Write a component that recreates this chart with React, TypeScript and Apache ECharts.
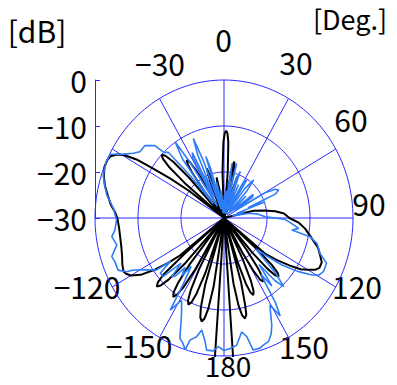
import React, { useEffect, useRef } from "react";
import * as echarts from "echarts";

// Black trace (simulated) : angle [deg], level [dB]
const blackAngles = [
  -180, -178, -176, -175.3,
  -172.3, -170.8, -169.5, -168.3, -167, -165.7, -164.5, -163.2, -161.7,
  -160.1, -158.8, -157.6, -156.3, -155, -153.8, -152.5, -151,
  -149.2, -147.9, -146.7, -145.4, -144.1, -142.9, -141.6, -139.8,
  -137.4, -136.1, -134.9, -133.6, -132.3, -131.1, -130.3, -129.6,
  -128.5, -127, -125, -122.5, -120, -118, -116.5, -113, -110, -105, -100, -95, -90, -87, -84, -80, -76, -72, -68, -65, -63, -61, -59.5, -58, -57, -55.5, -54, -52.5,
  -51.5, -50.2, -49, -47.8, -46.5, -45.2, -44, -42.8, -41.3,
  -39.5, -38.2, -37, -35.8, -34.5, -33.2, -32, -30.8, -29.5,
  -24.5, -23.2, -22, -20.4, -18.8, -17.6, -16.3,
  -14, -12.5, -11, -9.5, -8,
  -3.5, -2, -0.5, 0.5, 1.5, 2.5, 3.5, 5, 6.5,
  7.5, 9, 10, 11, 12, 13, 14.5,
  16.5, 17.8, 19, 20.2, 21.5,
  75.5, 77, 80, 83, 86, 90, 93.5, 97, 103, 106.5, 110, 113, 116, 118, 120, 122, 124, 126.5, 129, 130.8,
  131.6, 132.5, 133.7, 135, 136.3, 137.5, 138.8, 140.3,
  142.8, 144.1, 145.3, 146.6, 147.9, 149.1, 150.4, 152,
  154.1, 155.4, 156.6, 157.9, 159.2, 160.4, 161.7, 162.9,
  164.1, 165.4, 166.1, 167.4, 168.7, 169.9, 171.2, 172.5,
  175.3, 176, 178, 180,
];
const blackDb = [
  3, 3, 2, -30,
  -30, -14.9, -9.9, -7.7, -6.9, -7.7, -9.9, -14.9, -30,
  -17.4, -12.4, -10.2, -9.4, -10.2, -12.4, -17.4, -30,
  -17.2, -12.2, -10, -9.2, -10, -12.2, -17.2, -30,
  -16.4, -11.4, -9.2, -8.4, -9.2, -11.4, -18, -30,
  -17, -14, -10.5, -7, -5, -4.2, -3.9, -4.3, -4.8, -5.3, -5.5, -5.5, -5.2, -4.6, -3.6, -2.6, -1.5, -0.6, -0.05, -0.1, -0.4, -1.5, -3, -6, -10, -15, -20, -30,
  -30, -18, -13, -10.8, -10, -10.8, -13, -18, -30,
  -30, -22.7, -17.7, -15.5, -14.7, -15.5, -17.7, -22.7, -30,
  -30, -26.5, -21.5, -18.5, -21.5, -26.5, -30,
  -30, -24, -21, -24, -30,
  -30, -20, -13.5, -11.6, -11, -11.6, -13.5, -20, -30,
  -30, -22, -18.3, -17.5, -18.3, -22, -30,
  -30, -23.5, -20.5, -23.5, -30,
  -30, -23, -20.5, -18, -16, -14.8, -12.5, -11, -8.8, -7.2, -6.2, -5.3, -5.3, -6, -7.5, -9, -11.5, -14.5, -17.5, -30,
  -20, -15, -12.8, -12, -12.8, -15, -20, -30,
  -21.4, -16.4, -14.2, -13.4, -14.2, -16.4, -21.4, -30,
  -19.9, -14.9, -12.7, -11.9, -12.7, -14.9, -19.9, -30,
  -15.6, -10.6, -8.4, -7.6, -8.4, -10.6, -15.6, -30,
  -30, 2, 3, 3,
];

// Blue trace (measured) : angle [deg], level [dB]
const blueAngles = [
  -180, -177.3, -175, -172, -170.7, -168, -166.1, -163.4, -162.5, -160.5, -158.6, -157.5, -156, -154, -152, -151,
  -149.5, -148, -146.5, -144, -142, -140, -138, -136.4, -134.5, -132, -129, -127, -125.8, -122,
  -118.2, -117.3, -114.7, -110.6, -107.8, -103.2, -98.8, -95.9, -91, -85.3, -79.6, -75, -71.6, -66, -62.4,
  -59.3, -56.3, -53.6, -49.4, -45.6, -44.5, -42.2, -40.5, -39, -37, -34.5, -33, -31.5, -29, -27.5, -26, -24,
  -22.4, -21, -19.5, -17.5, -16, -14, -12.5, -11, -9, -7, -5, -3, -1, 1, 3, 5, 7, 9, 11, 13.9, 16, 18.5,
  20.6, 22.5, 25, 27, 30, 32.6, 34.5, 37, 39.9, 42, 44, 47, 50, 53, 55.5, 57, 60, 62.5, 64.4, 66.5, 68,
  69.8, 71.5, 74, 77, 80, 84, 88.4, 91, 93, 97.4, 99.4, 101.5, 104.3, 109, 112.4, 116.8, 119.4, 121.2,
  123.9, 127.2, 130, 132.5, 135, 137, 139, 141, 143, 145, 147, 148.5, 150.5, 152, 154.5, 156.5, 159,
  161.7, 163.5, 166.7, 168.4, 170.6, 173.9, 177.1, 179.5, 180,
];
const blueDb = [
  -1.2, -2, -1, -1, -2.8, -5.1, -3.4, -2.3, 0, -1.2, -1.9, -3.5, -5.5, -7.5, -9, -9.6,
  -8, -6.4, -13, -17, -14, -16, -13, -12.4, -16, -11, -10.9, -14.5, -10.7, -8.8,
  -6.1, -4.5, -2.9, -2.9, -2.6, -4.4, -3.6, -4.5, -5, -4.2, -2.3, -1.2, -0.4, 0, -0.1,
  -2.8, -4.65, -5.7, -5.8, -7.5, -10, -10.7, -18, -26, -14, -9.9, -16, -27, -15, -14, -25, -15,
  -11.3, -17, -28, -16, -19, -28, -22, -25, -29, -24, -28, -26, -29, -25, -28, -24, -29, -18, -26, -17.8, -28, -21,
  -19.2, -29, -22, -28, -21, -20.2, -28, -22, -19.2, -22, -29, -23, -28, -21.5, -22, -27, -19, -16.5, -15.9, -17, -24,
  -19.8, -27, -25, -28, -24, -22, -20.4, -16, -14.9, -12.5, -14, -9.6, -7.7, -6.4, -4.2, -4.1, -4.7, -6.1,
  -9.1, -13.1, -17.5, -20, -13, -9.6, -12, -17, -11.5, -15, -8, -5, -8.3, -7, -4.2, -2.5, -1.2,
  -0.9, -0.5, -0.5, -3.7, -4.9, -2.2, -1.6, -1.3, -1.2,
];

// Tick labels
const radialTicks = [0, -10, -20, -30];
const angleTicks = [0, 30, 60, 90, 120, 150, 180, -150, -120, -30];
const angleLabelPos = [
  [223.5, 39], [296, 62], [351, 119], [369, 203], [357, 286], [304, 346], [228, 365], [139, 345], [87, 286], [160, 63],
];
const angleLabelSize = [30, 30, 30, 30, 30, 30, 28, 30, 30, 30];
const gridRings = [10, 20, 30];
const spokeAngles = [0, 30, 60, 90, 120, 150];

const FONT = "'Noto Sans CJK JP', 'Noto Sans', sans-serif";
const GRID_COLOR = "#2a2aff";

const toXY = (deg: number, db: number) => {
  const r = Math.max(db, -30) + 30;
  const a = (deg * Math.PI) / 180;
  return [r * Math.sin(a), r * Math.cos(a)];
};

const minusFmt = (v: number) => (v < 0 ? "\u2212" + Math.abs(v) : String(v));

const textStyle = (text: string, size: number) => ({
  text, fontSize: size, fontFamily: FONT, fill: "#000",
  align: "center", verticalAlign: "middle", textAlign: "center", textVerticalAlign: "middle",
});

export default function App() {
  const ref = useRef<HTMLDivElement>(null);
  useEffect(() => {
    if (!ref.current) return;
    const chart = echarts.init(ref.current, undefined, { renderer: "svg" });

    const ringSeries = gridRings.map((r) => {
      const pts: number[][] = [];
      for (let a = 0; a <= 360; a += 2) pts.push(toXY(a, r - 30));
      return {
        type: "line", xAxisIndex: 0, yAxisIndex: 0, data: pts, showSymbol: false, silent: true,
        lineStyle: { color: GRID_COLOR, width: 1 }, z: 1, clip: false,
      };
    });
    const spokeSeries = spokeAngles.map((a) => ({
      type: "line", xAxisIndex: 0, yAxisIndex: 0, data: [toXY(a, 0), toXY(a + 180, 0)], showSymbol: false, silent: true,
      lineStyle: { color: GRID_COLOR, width: 1 }, z: 1, clip: false,
    }));

    const blackData = blackAngles.map((a, i) => toXY(a, blackDb[i]));
    const blueData = blueAngles.map((a, i) => toXY(a, blueDb[i]));

    const labelGraphics = angleTicks.map((t, i) => ({
      type: "text",
      x: angleLabelPos[i][0],
      y: angleLabelPos[i][1],
      style: textStyle(minusFmt(t), angleLabelSize[i]),
    }));

    chart.setOption({
      animation: false,
      backgroundColor: "#fff",
      grid: [
        { left: 95, top: 80, width: 258, height: 276 },
        { left: 95, top: 80, width: 129, height: 138 },
      ],
      xAxis: [
        { type: "value", gridIndex: 0, min: -30, max: 30, show: false },
        { type: "value", gridIndex: 1, min: 0, max: 1, show: false },
      ],
      yAxis: [
        { type: "value", gridIndex: 0, min: -30, max: 30, show: false },
        {
          type: "value", gridIndex: 1, min: -30, max: 0, interval: 10, position: "left",
          axisLine: { show: true, lineStyle: { color: GRID_COLOR, width: 1 } },
          axisTick: { show: true, inside: true, length: 5, lineStyle: { color: GRID_COLOR } },
          splitLine: { show: false },
          axisLabel: {
            fontSize: 30, fontFamily: FONT, color: "#000", margin: 8,
            formatter: (v: number) => (radialTicks.includes(v) ? minusFmt(v) : ""),
          },
        },
      ],
      series: [
        ...ringSeries,
        ...spokeSeries,
        {
          type: "line", name: "simulated", xAxisIndex: 0, yAxisIndex: 0, data: blackData, showSymbol: false,
          lineStyle: { color: "#000", width: 2 }, z: 3, clip: true,
        },
        {
          type: "line", name: "measured", xAxisIndex: 0, yAxisIndex: 0, data: blueData, showSymbol: false,
          lineStyle: { color: "#2f7df6", width: 1.6 }, z: 4, clip: true,
        },
      ],
      graphic: [
        ...labelGraphics,
        { type: "text", x: 37, y: 30, style: textStyle("[dB]", 30) },
        { type: "text", x: 350, y: 18, style: textStyle("[Deg.]", 27) },
      ],
    });
    return () => chart.dispose();
  }, []);
  return (
    <div
      ref={ref}
      style={{ position: "fixed", left: 0, top: 0, width: 397, height: 385, background: "#fff" }}
    />
  );
}
